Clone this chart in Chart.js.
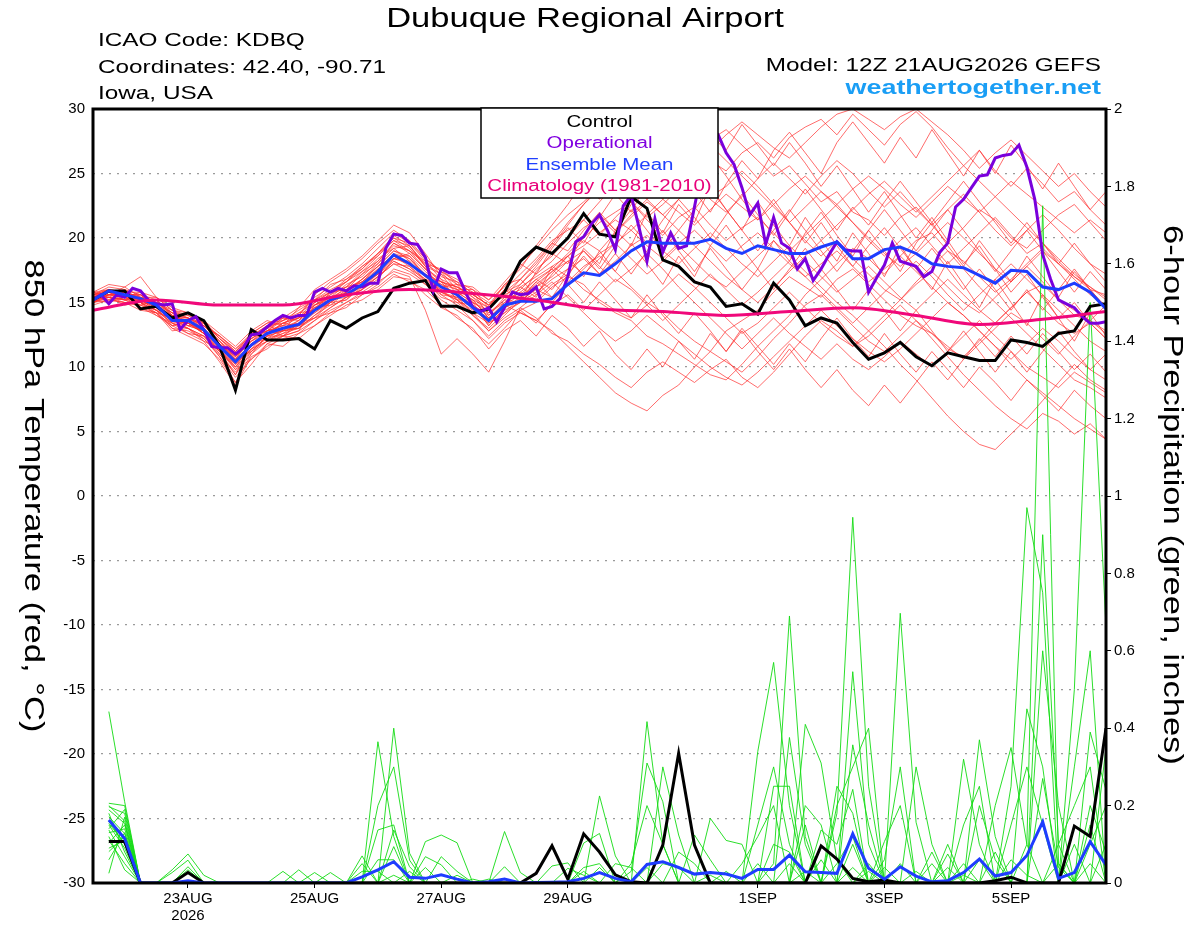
<!DOCTYPE html>
<html lang="en">
<head>
    <meta charset="UTF-8">
    <title>Dubuque Regional Airport - GEFS plume</title>
    <script src="https://cdn.jsdelivr.net/npm/chart.js"></script>
    <style>
        html, body {
            margin: 0;
            padding: 0;
            background: #fff;
        }

        #plume {
            display: block;
        }
    </style>
</head>
<body>
<canvas id="plume" width="1200" height="927"></canvas>

<script>
    // forecast hours after 12Z 21AUG2026
    const hours6 = [0, 6, 12, 18, 24, 30, 36, 42, 48, 54, 60, 66, 72, 78, 84, 90, 96, 102, 108, 114, 120,
        126, 132, 138, 144, 150, 156, 162, 168, 174, 180, 186, 192, 198, 204, 210, 216, 222, 228, 234, 240,
        246, 252, 258, 264, 270, 276, 282, 288, 294, 300, 306, 312, 318, 324, 330, 336, 342, 348, 354, 360,
        366, 372, 378, 384];
    const hours3 = [0, 3, 6, 9, 12, 15, 18, 21, 24, 27, 30, 33, 36, 39, 42, 45,
        48, 51, 54, 57, 60, 63, 66, 69, 72, 75, 78, 81, 84, 87, 90, 93,
        96, 99, 102, 105, 108, 111, 114, 117, 120, 123, 126, 129, 132, 135, 138, 141,
        144, 147, 150, 153, 156, 159, 162, 165, 168, 171, 174, 177, 180, 183, 186, 189,
        192, 195, 198, 201, 204, 207, 210, 213, 216, 219, 222, 225, 228, 231, 234, 237,
        240, 243, 246, 249, 252, 255, 258, 261, 264, 267, 270, 273, 276, 279, 282, 285,
        288, 291, 294, 297, 300, 303, 306, 309, 312, 315, 318, 321, 324, 327, 330, 333,
        336, 339, 342, 345, 348, 351, 354, 357, 360, 363, 366, 369, 372, 375, 378, 381,
        384];
    const climHours = [0, 24, 48, 72, 96, 120, 144, 168, 192, 216, 240, 264, 288, 312, 336, 360, 384];
    const precipHours = hours6.slice(1);

    const tickHours = [36, 84, 132, 180, 252, 300, 348];
    const tickLabels = [['23AUG', '2026'], '25AUG', '27AUG', '29AUG', '1SEP', '3SEP', '5SEP'];

    // 850 hPa temperature (C)
    const controlTemp = [15.2, 15.9, 15.9, 14.5, 14.7, 13.8, 14.2, 13.6, 11.6,
        8.2, 12.9, 12.1, 12.1, 12.2, 11.4, 13.6, 13.0, 13.8,
        14.3, 16.1, 16.5, 16.7, 14.7, 14.7, 14.2, 14.5,
        15.8, 18.2, 19.3, 18.8, 20.0, 21.9, 20.3, 20.1,
        23.2, 22.3, 18.3, 17.8, 16.6, 16.2, 14.7, 14.9,
        14.1, 16.5, 15.2, 13.2, 13.8, 13.4, 11.9, 10.6,
        11.1, 11.9, 10.8, 10.1, 11.1, 10.8, 10.5, 10.5,
        12.1, 11.9, 11.6, 12.6, 12.8, 14.7, 14.9];

    const meanTemp = [15.2, 15.9, 15.6, 15.3, 14.8, 13.6, 13.6, 12.9, 11.6,
        10.4, 11.7, 12.6, 13.0, 13.3, 14.4, 15.2, 15.6, 16.4,
        17.4, 18.7, 18.0, 17.1, 16.2, 15.6, 14.6, 13.6,
        14.8, 15.1, 15.1, 15.3, 16.4, 17.3, 17.1, 18.0,
        19.0, 19.7, 19.6, 19.6, 19.6, 19.9, 19.2, 18.8,
        19.4, 19.1, 18.8, 18.8, 19.3, 19.7, 18.4, 18.4,
        19.1, 19.3, 18.8, 18.0, 17.8, 17.7, 17.1, 16.5,
        17.5, 17.4, 16.2, 16.0, 16.5, 15.8, 14.5];

    const operTemp = [15.2, 15.6, 14.9, 15.6, 15.4, 16.1, 15.9, 15.2, 14.9, 14.8, 14.9, 12.9, 13.6, 13.9, 12.9, 11.6,
        11.5, 11.5, 11.0, 11.5, 12.5, 12.6, 13.1, 13.6, 14.0, 13.8, 14.0, 14.0, 15.8, 16.1, 15.8, 16.1,
        15.9, 16.3, 16.2, 16.5, 16.5, 19.2, 20.3, 20.2, 19.6, 19.5, 18.5, 15.9, 17.6, 17.3, 17.3, 15.9,
        14.6, 14.3, 14.6, 13.5, 14.6, 15.8, 15.6, 15.7, 16.2, 14.5, 14.7, 15.3, 17.0, 19.7, 20.1, 21.1,
        21.8, 20.6, 19.1, 22.5, 23.3, 20.8, 18.2, 21.5, 18.9, 20.4, 19.2, 19.4, 22.4, 25.5, 27.6, 28.0,
        26.6, 25.7, 23.9, 21.8, 22.7, 19.5, 21.6, 19.6, 19.2, 17.6, 18.4, 16.7, 17.6, 18.7, 19.7, 19.1,
        19.0, 19.0, 15.8, 16.9, 17.9, 19.6, 18.2, 18.0, 17.8, 17.0, 17.4, 18.9, 19.6, 22.4, 23.0, 23.9,
        24.8, 24.9, 26.2, 26.4, 26.5, 27.2, 25.5, 23.0, 18.7, 16.8, 15.2, 14.9, 14.6, 13.9, 13.4, 13.4,
        13.5];

    const climTemp = [14.4, 15.2, 14.8, 14.8, 15.6, 16.0, 15.7, 15.2, 14.5, 14.3, 14.0, 14.3, 14.6, 14.0, 13.3, 13.7, 14.3];

    // ensemble members, 850 hPa temperature
    const ens01 = [15.6, 16.0, 15.4, 15.0, 14.2, 13.8, 13.0, 12.4, 11.2,
        10.2, 11.4, 12.0, 12.6, 13.4, 14.6, 15.4, 16.0, 16.8,
        17.8, 19.0, 18.6, 17.4, 16.4, 16.0, 15.2, 14.6,
        15.8, 16.4, 17.8, 19.4, 21.0, 22.6, 23.8, 25.0,
        26.4, 27.8, 28.6, 29.4, 28.8, 27.6, 28.4, 27.2,
        26.0, 24.8, 25.6, 24.2, 22.8, 23.6, 22.0, 21.4,
        20.2, 21.6, 22.4, 21.0, 19.6, 20.8, 22.2, 21.4,
        20.0, 19.2, 20.6, 21.8, 22.6, 21.2, 19.8];
    const ens02 = [15.0, 15.6, 15.8, 15.2, 14.6, 13.2, 13.4, 12.6, 11.0,
        9.6, 11.0, 12.4, 12.8, 13.0, 14.0, 14.8, 15.2, 16.2,
        17.0, 18.2, 17.6, 16.8, 15.8, 15.4, 14.6, 13.8,
        14.8, 14.2, 13.6, 12.8, 11.6, 10.4, 9.2, 8.0,
        7.2, 6.6, 7.8, 8.6, 10.0, 11.2, 12.8, 13.6,
        14.4, 15.8, 17.0, 16.2, 15.4, 16.8, 17.6, 16.4,
        15.2, 14.0, 13.2, 12.6, 11.4, 10.8, 12.0, 13.4,
        14.6, 15.8, 16.4, 15.2, 14.0, 13.6, 14.8];
    const ens03 = [15.4, 15.2, 15.0, 14.8, 15.2, 14.0, 13.2, 12.8, 11.8,
        10.8, 12.2, 13.0, 12.4, 12.8, 14.8, 15.6, 16.6, 17.4,
        18.6, 20.0, 19.2, 17.8, 15.6, 14.8, 13.6, 12.4,
        13.6, 14.4, 15.0, 16.2, 17.0, 16.4, 15.0, 14.2,
        13.6, 12.4, 11.8, 11.0, 10.2, 9.4, 9.0, 10.2,
        11.6, 12.8, 14.0, 15.6, 16.8, 18.0, 19.2, 18.4,
        17.2, 18.6, 19.8, 20.4, 19.0, 17.6, 16.2, 15.0,
        13.8, 12.6, 11.4, 10.2, 9.0, 8.4, 7.6];
    const ens04 = [15.2, 15.8, 15.6, 15.6, 15.0, 14.4, 13.8, 13.2, 12.0,
        11.0, 12.0, 12.8, 13.6, 14.2, 15.0, 15.8, 16.2, 17.2,
        18.0, 19.6, 19.0, 18.0, 17.2, 16.4, 15.8, 15.0,
        15.4, 16.0, 17.2, 18.2, 19.6, 20.8, 21.6, 20.4,
        21.8, 23.0, 24.2, 23.4, 24.8, 26.0, 25.2, 26.6,
        27.4, 26.2, 27.8, 28.6, 29.2, 28.0, 29.6, 28.4,
        27.2, 28.8, 29.8, 28.6, 27.0, 25.6, 26.8, 25.2,
        24.0, 25.4, 24.2, 22.8, 23.6, 22.2, 21.0];
    const ens05 = [15.8, 15.4, 15.2, 14.6, 14.0, 13.4, 12.6, 12.0, 11.4,
        9.8, 10.6, 11.6, 12.2, 12.6, 13.6, 14.6, 15.4, 16.0,
        16.8, 18.4, 18.8, 17.6, 16.8, 15.2, 14.0, 12.8,
        14.0, 15.2, 16.0, 15.4, 16.6, 17.8, 18.6, 17.4,
        16.2, 15.0, 14.2, 13.0, 12.0, 11.2, 10.4, 9.6,
        10.8, 12.2, 13.4, 14.8, 15.6, 14.4, 13.2, 12.0,
        11.2, 12.4, 13.6, 12.2, 10.8, 9.4, 8.2, 7.0,
        6.0, 5.2, 6.4, 5.8, 4.8, 5.6, 4.4];
    const ens06 = [15.0, 15.2, 15.0, 14.4, 14.2, 13.0, 12.4, 11.8, 10.6,
        8.8, 10.2, 11.8, 12.4, 13.2, 13.8, 14.2, 15.0, 15.8,
        16.6, 17.4, 17.0, 14.4, 11.0, 12.2, 11.0, 9.6,
        12.0, 14.6, 13.8, 12.6, 12.0, 11.0, 10.2, 9.2,
        8.4, 9.6, 10.4, 9.6, 8.8, 9.8, 10.6, 9.2,
        8.4, 9.6, 11.0, 12.4, 13.6, 12.8, 11.6, 12.4,
        13.6, 14.8, 13.6, 12.6, 11.6, 10.6, 11.8, 13.0,
        14.2, 13.4, 12.2, 11.0, 12.4, 13.6, 12.6];
    const ens07 = [15.6, 16.2, 16.0, 15.6, 15.2, 14.2, 14.0, 13.2, 12.0,
        10.8, 12.0, 13.0, 13.6, 14.0, 15.4, 16.2, 17.0, 18.0,
        19.2, 20.4, 19.6, 18.2, 16.8, 16.2, 15.6, 14.8,
        16.0, 17.2, 18.4, 19.8, 20.6, 21.4, 20.2, 21.6,
        22.8, 21.4, 20.2, 21.6, 22.4, 21.0, 19.8, 20.8,
        21.6, 20.4, 19.0, 20.2, 21.4, 22.6, 21.2, 19.8,
        18.6, 19.8, 20.8, 19.4, 18.0, 19.2, 20.4, 21.6,
        20.2, 18.8, 19.6, 18.2, 17.0, 16.2, 15.4];
    const ens08 = [15.4, 15.6, 15.8, 15.0, 14.8, 13.8, 13.6, 12.6, 11.8,
        10.4, 11.6, 12.8, 13.2, 13.8, 14.2, 15.0, 16.0, 16.6,
        17.6, 18.8, 18.4, 17.2, 16.2, 15.8, 15.0, 13.2,
        14.6, 15.2, 16.6, 17.6, 18.8, 20.0, 21.2, 22.0,
        22.8, 21.6, 22.6, 23.8, 24.6, 23.2, 24.0, 25.2,
        24.0, 22.6, 21.2, 19.8, 18.6, 19.8, 18.4, 17.2,
        16.0, 15.2, 16.4, 17.4, 16.2, 15.0, 14.2, 15.4,
        16.6, 17.8, 16.6, 15.2, 14.4, 13.6, 12.8];
    const ens09 = [15.8, 16.4, 16.2, 17.0, 15.4, 14.6, 14.2, 13.4, 12.2,
        11.2, 12.6, 13.4, 13.8, 14.6, 16.0, 16.8, 17.6, 18.6,
        19.8, 21.0, 20.4, 18.8, 17.0, 16.6, 15.4, 14.2,
        15.0, 15.8, 15.2, 16.4, 17.2, 16.0, 15.2, 14.4,
        13.8, 14.8, 16.0, 17.2, 16.2, 15.0, 13.8, 12.6,
        13.4, 14.6, 15.8, 14.6, 13.4, 12.4, 11.6, 12.8,
        14.0, 15.2, 16.6, 17.8, 19.0, 18.2, 17.0, 15.8,
        16.8, 18.0, 19.2, 18.0, 16.8, 15.6, 14.8];
    const ens10 = [15.2, 15.4, 15.2, 15.4, 14.8, 13.6, 13.4, 12.6, 11.4,
        10.0, 11.8, 12.6, 13.0, 13.4, 14.4, 15.2, 15.6, 16.4,
        17.2, 18.4, 18.0, 17.0, 16.4, 15.6, 14.8, 14.0,
        15.2, 16.4, 17.6, 18.6, 20.0, 21.4, 22.8, 24.2,
        23.0, 24.4, 25.8, 26.8, 25.6, 26.8, 28.0, 29.0,
        28.0, 27.0, 26.2, 27.4, 28.6, 29.6, 30.0, 29.2,
        28.4, 29.4, 30.0, 29.0, 28.0, 26.8, 25.4, 26.6,
        27.6, 26.4, 25.2, 24.0, 25.0, 23.6, 22.4];
    const ens11 = [15.0, 15.6, 15.4, 15.2, 14.4, 13.4, 13.0, 12.4, 11.2,
        9.8, 11.4, 12.2, 12.6, 13.0, 14.0, 15.0, 15.8, 16.6,
        17.4, 18.6, 17.8, 16.6, 15.4, 15.0, 14.0, 13.0,
        14.2, 15.0, 16.2, 17.0, 18.2, 19.0, 17.8, 16.6,
        17.6, 18.8, 17.6, 16.2, 15.0, 13.8, 12.6, 11.4,
        12.6, 13.8, 12.6, 11.6, 10.6, 11.8, 10.6, 9.8,
        10.8, 12.0, 11.0, 10.0, 11.2, 12.4, 13.6, 12.4,
        11.2, 10.0, 9.2, 8.4, 9.6, 8.8, 8.0];
    const ens12 = [15.4, 16.0, 15.8, 15.2, 14.6, 13.8, 13.8, 13.0, 11.6,
        10.6, 11.2, 12.4, 13.4, 13.8, 14.8, 15.4, 15.8, 16.8,
        18.0, 19.2, 18.2, 17.0, 16.0, 15.6, 14.8, 13.4,
        14.4, 15.0, 16.2, 17.4, 18.6, 19.8, 19.0, 20.4,
        21.6, 22.8, 21.8, 23.0, 24.2, 23.0, 22.0, 23.2,
        24.6, 25.8, 24.6, 23.4, 24.8, 26.0, 25.0, 23.6,
        22.4, 23.6, 22.2, 21.0, 22.2, 23.4, 22.0, 20.6,
        19.4, 20.6, 21.8, 20.6, 19.2, 18.0, 17.2];
    const ens13 = [15.6, 15.8, 15.4, 15.4, 14.8, 13.4, 13.6, 13.0, 11.8,
        10.6, 12.2, 12.8, 13.2, 13.4, 14.6, 15.2, 15.4, 16.0,
        17.0, 18.0, 17.8, 16.8, 16.2, 15.8, 15.0, 14.2,
        15.2, 15.0, 15.8, 16.8, 17.6, 18.4, 17.2, 18.2,
        19.4, 20.2, 19.0, 18.0, 19.2, 20.4, 19.2, 18.0,
        17.0, 18.2, 19.4, 18.2, 17.0, 15.8, 16.8, 17.8,
        16.6, 15.4, 14.4, 15.6, 16.8, 15.6, 14.4, 13.4,
        14.6, 15.8, 14.6, 13.4, 12.6, 13.4, 12.2];
    const ens14 = [15.2, 15.6, 15.6, 15.0, 14.4, 13.6, 13.4, 12.8, 11.4,
        10.2, 11.6, 12.4, 12.8, 13.2, 14.2, 15.2, 15.6, 16.2,
        17.2, 18.6, 18.0, 17.2, 16.6, 16.0, 15.2, 13.8,
        14.8, 15.6, 16.8, 17.6, 16.4, 17.6, 18.8, 19.6,
        18.4, 17.2, 18.2, 19.4, 18.2, 17.0, 16.2, 17.4,
        18.6, 19.8, 18.6, 17.4, 16.2, 15.0, 14.0, 12.8,
        11.6, 10.2, 9.0, 7.6, 6.2, 5.0, 4.0, 3.6,
        4.8, 6.0, 7.4, 8.8, 10.2, 9.0, 8.2];
    const ens15 = [15.8, 16.0, 15.6, 15.2, 15.0, 14.0, 13.8, 13.2, 12.4,
        11.4, 12.4, 13.2, 13.4, 14.0, 15.6, 16.6, 17.4, 18.4,
        19.6, 20.6, 19.8, 18.4, 17.4, 16.6, 16.0, 15.2,
        16.2, 17.8, 19.2, 20.6, 21.8, 22.8, 24.0, 25.2,
        24.2, 23.0, 21.8, 20.6, 19.4, 18.2, 17.0, 16.0,
        15.0, 16.2, 17.4, 18.6, 19.8, 21.0, 22.2, 23.4,
        24.4, 23.2, 22.0, 23.2, 24.4, 25.6, 24.4, 23.2,
        22.0, 20.8, 19.6, 18.4, 17.2, 16.2, 15.2];
    const ens16 = [14.8, 15.2, 15.4, 15.0, 14.4, 13.0, 12.8, 12.2, 10.8,
        8.8, 11.0, 12.0, 12.4, 12.8, 13.6, 14.4, 15.0, 15.6,
        16.4, 17.6, 17.2, 16.4, 15.2, 14.4, 13.6, 12.2,
        13.4, 14.2, 13.6, 14.8, 15.6, 14.4, 15.6, 16.8,
        16.0, 14.8, 13.6, 14.8, 16.0, 17.2, 16.0, 14.8,
        15.8, 17.0, 18.2, 17.0, 15.8, 14.6, 13.4, 14.6,
        15.8, 17.0, 18.2, 17.0, 15.6, 14.4, 15.6, 16.8,
        18.0, 16.8, 15.6, 14.4, 13.2, 12.0, 11.2];
    const ens17 = [15.4, 15.8, 15.8, 15.4, 15.0, 14.2, 13.8, 13.4, 12.2,
        11.2, 12.4, 12.8, 13.0, 13.6, 15.0, 15.8, 16.6, 17.8,
        18.8, 20.2, 19.4, 17.8, 16.6, 16.2, 15.4, 14.6,
        15.8, 16.8, 18.0, 19.6, 21.2, 22.6, 24.0, 25.4,
        26.4, 25.2, 26.6, 27.6, 28.4, 27.2, 26.0, 24.8,
        23.6, 22.4, 21.2, 22.4, 23.6, 22.4, 21.2, 20.0,
        18.8, 17.8, 18.8, 20.0, 21.2, 20.0, 18.8, 17.6,
        16.6, 17.8, 19.0, 18.0, 17.0, 16.0, 15.6];
    const ens18 = [15.0, 15.4, 15.2, 14.8, 14.4, 13.4, 13.0, 12.2, 11.0,
        9.4, 11.2, 12.0, 12.8, 13.0, 13.8, 14.6, 15.4, 16.0,
        17.0, 18.0, 17.4, 16.6, 15.8, 15.2, 14.2, 12.8,
        13.8, 14.6, 15.6, 16.6, 15.4, 14.2, 13.0, 12.0,
        12.8, 14.0, 13.0, 12.0, 11.0, 10.0, 9.2, 8.6,
        9.6, 10.8, 12.0, 13.2, 14.4, 13.2, 12.2, 11.2,
        10.4, 11.4, 12.6, 13.8, 15.0, 14.0, 12.8, 11.6,
        10.6, 11.8, 13.0, 12.0, 10.8, 9.8, 9.0];
    const ens19 = [15.6, 15.8, 15.8, 15.4, 14.8, 14.0, 13.4, 12.8, 11.8,
        10.8, 12.0, 12.6, 13.4, 13.8, 14.8, 15.4, 16.4, 17.0,
        18.2, 19.4, 19.0, 17.6, 16.6, 16.2, 15.6, 14.8,
        15.6, 16.2, 17.0, 17.8, 18.6, 19.4, 20.4, 21.4,
        20.6, 21.8, 23.0, 22.0, 21.0, 22.2, 23.4, 22.4,
        21.4, 22.6, 23.8, 24.8, 23.6, 22.6, 23.8, 24.8,
        23.8, 22.6, 21.6, 22.8, 24.0, 23.0, 22.0, 23.2,
        24.4, 23.4, 22.4, 21.4, 20.4, 21.4, 20.4];
    const ens20 = [15.4, 15.4, 15.0, 14.8, 14.2, 13.2, 13.6, 12.6, 11.2,
        10.0, 11.4, 12.6, 12.8, 13.6, 14.4, 15.0, 15.8, 16.8,
        17.8, 19.0, 18.4, 17.0, 15.8, 15.2, 14.4, 13.6,
        14.6, 15.4, 16.4, 17.4, 18.2, 17.2, 18.4, 19.6,
        20.6, 19.4, 18.4, 19.6, 20.6, 19.4, 18.2, 19.4,
        20.4, 19.2, 18.0, 17.0, 18.0, 19.0, 17.8, 16.6,
        17.6, 18.6, 17.4, 16.2, 15.0, 14.0, 12.8, 11.6,
        10.2, 9.0, 8.0, 7.0, 6.0, 5.2, 4.4];
    const ens21 = [15.0, 15.8, 15.2, 15.6, 14.6, 13.6, 13.2, 12.8, 11.2,
        9.4, 11.8, 12.2, 13.0, 13.0, 14.6, 14.8, 15.8, 16.2,
        17.6, 18.4, 18.2, 16.6, 16.0, 15.0, 14.8, 13.2,
        14.6, 16.2, 15.4, 17.8, 17.0, 19.2, 18.0, 20.6,
        19.4, 22.0, 20.4, 22.6, 21.2, 24.0, 22.2, 20.6,
        22.8, 21.0, 19.4, 21.6, 19.8, 18.2, 20.4, 18.8,
        17.0, 19.4, 17.6, 16.0, 18.2, 16.4, 14.6, 16.8,
        15.0, 13.2, 15.6, 13.8, 12.0, 14.2, 12.4];
    const ens22 = [15.6, 15.4, 16.0, 15.2, 15.0, 14.2, 13.2, 13.4, 12.0,
        10.6, 12.4, 12.8, 13.8, 13.6, 15.0, 15.6, 16.2, 17.4,
        18.2, 19.6, 18.8, 17.6, 16.2, 16.4, 15.0, 14.4,
        16.0, 15.2, 17.4, 18.8, 18.0, 20.2, 21.8, 20.6,
        22.6, 24.4, 23.0, 25.2, 23.6, 22.0, 24.2, 26.0,
        24.6, 26.8, 28.2, 26.6, 25.0, 27.4, 29.0, 27.4,
        25.8, 27.8, 26.2, 28.4, 26.6, 24.8, 26.8, 25.0,
        27.2, 25.6, 23.8, 25.8, 24.0, 22.2, 23.6];
    const ens23 = [15.2, 15.0, 15.4, 14.6, 14.2, 12.8, 13.0, 12.0, 10.4,
        8.6, 10.8, 11.4, 12.4, 12.2, 13.2, 14.2, 14.6, 15.6,
        16.2, 17.2, 16.6, 16.0, 14.8, 13.8, 13.0, 11.4,
        12.8, 13.6, 12.4, 14.0, 13.0, 11.6, 12.8, 11.0,
        9.8, 11.4, 10.0, 12.0, 10.6, 12.6, 11.2, 13.0,
        11.6, 10.2, 11.8, 10.4, 12.2, 13.8, 12.2, 10.8,
        12.6, 11.0, 9.6, 11.2, 9.8, 8.4, 10.0, 8.8,
        7.4, 9.0, 7.8, 6.6, 8.2, 7.0, 6.0];
    const ens24 = [15.4, 16.0, 15.4, 15.8, 14.8, 14.2, 13.4, 13.6, 12.2,
        11.0, 12.4, 13.2, 12.8, 14.2, 14.4, 15.8, 16.0, 17.2,
        18.4, 19.2, 19.4, 17.8, 17.2, 15.6, 15.8, 14.0,
        15.4, 16.8, 15.6, 17.2, 18.6, 17.0, 19.0, 17.4,
        19.6, 18.0, 16.4, 18.6, 17.0, 19.4, 21.0, 19.2,
        17.6, 19.8, 18.2, 20.4, 22.0, 20.2, 18.6, 20.6,
        19.0, 17.4, 19.6, 21.2, 19.4, 17.8, 19.8, 18.2,
        16.6, 18.6, 17.0, 15.4, 17.4, 16.0, 14.6];
    const ens25 = [15.8, 15.6, 16.2, 15.4, 15.4, 14.4, 14.0, 13.6, 12.6,
        11.6, 12.8, 13.6, 13.2, 14.6, 15.2, 16.4, 16.8, 17.8,
        18.6, 19.8, 19.4, 18.0, 17.6, 16.4, 16.2, 15.2,
        16.6, 18.0, 17.2, 19.2, 20.8, 19.6, 21.6, 23.4,
        22.0, 24.2, 25.8, 24.4, 26.6, 28.0, 26.8, 28.8,
        27.2, 25.6, 27.4, 25.8, 24.0, 25.6, 23.8, 22.0,
        23.6, 21.8, 20.0, 21.6, 19.8, 18.0, 19.4, 17.6,
        15.8, 17.2, 15.4, 13.8, 15.0, 13.4, 12.2];
    const ens26 = [15.0, 15.4, 14.8, 15.0, 14.0, 13.2, 12.6, 12.4, 10.8,
        9.2, 10.6, 11.8, 11.6, 12.6, 13.2, 14.0, 14.8, 15.2,
        16.0, 17.0, 16.8, 15.6, 14.6, 14.0, 12.8, 11.8,
        13.0, 14.4, 13.4, 15.0, 16.4, 15.0, 16.6, 15.2,
        13.8, 15.6, 14.0, 12.6, 14.2, 12.8, 11.2, 12.8,
        11.2, 9.8, 11.4, 9.8, 8.4, 9.8, 8.2, 7.0,
        8.6, 7.2, 8.8, 10.4, 9.0, 10.6, 12.2, 10.8,
        12.4, 11.0, 12.6, 11.2, 9.8, 11.0, 9.6];
    const ens27 = [15.4, 15.8, 15.6, 15.2, 15.2, 14.0, 13.8, 13.2, 12.4,
        11.4, 12.6, 13.4, 13.6, 14.4, 15.2, 16.0, 16.6, 17.6,
        18.8, 20.0, 19.6, 18.4, 17.4, 16.8, 15.6, 14.8,
        16.4, 17.6, 19.4, 21.0, 22.6, 24.4, 23.0, 25.4,
        27.0, 25.6, 27.8, 26.2, 24.6, 26.4, 24.8, 23.0,
        21.4, 23.0, 21.2, 19.6, 21.2, 19.4, 17.8, 19.4,
        20.8, 19.2, 17.6, 19.2, 17.6, 16.0, 17.6, 16.0,
        14.4, 16.0, 14.4, 16.0, 17.6, 16.0, 14.6];
    const ens28 = [15.6, 15.6, 15.6, 15.6, 14.6, 14.0, 13.6, 12.8, 11.8,
        10.6, 11.8, 12.6, 13.4, 13.2, 14.8, 15.2, 16.2, 16.6,
        17.8, 18.6, 18.6, 17.0, 16.6, 15.2, 15.2, 13.8,
        15.0, 15.8, 16.8, 16.0, 17.6, 19.0, 17.6, 19.4,
        21.0, 19.6, 21.4, 23.0, 21.6, 20.0, 21.8, 23.4,
        21.8, 20.2, 22.0, 23.8, 22.2, 20.6, 22.4, 21.0,
        22.8, 24.4, 22.8, 21.2, 22.8, 24.4, 22.8, 21.2,
        19.6, 21.2, 19.6, 18.0, 19.6, 18.0, 16.6];
    const ens29 = [15.2, 15.6, 15.2, 15.2, 14.4, 13.6, 13.4, 12.6, 11.2,
        10.0, 11.2, 12.4, 12.4, 13.4, 13.8, 15.0, 15.2, 16.4,
        17.2, 18.2, 17.6, 16.4, 15.6, 15.4, 14.2, 13.4,
        14.2, 15.4, 16.6, 15.4, 17.2, 18.6, 17.2, 18.8,
        17.2, 19.0, 20.6, 19.0, 17.4, 19.2, 17.6, 16.0,
        17.6, 16.0, 17.6, 19.2, 17.6, 16.0, 14.4, 16.0,
        14.4, 12.8, 14.4, 12.8, 11.2, 12.8, 11.2, 9.6,
        11.2, 9.6, 11.2, 12.8, 11.2, 9.8, 11.0];
    const ens30 = [15.6, 16.0, 15.8, 15.8, 15.4, 14.4, 14.2, 13.4, 12.4,
        11.2, 12.2, 13.0, 13.8, 13.8, 15.2, 15.8, 16.8, 17.6,
        18.8, 19.8, 19.0, 18.2, 17.4, 16.0, 16.0, 14.6,
        16.4, 16.8, 18.2, 19.6, 19.0, 20.6, 22.0, 20.6,
        22.2, 20.6, 19.0, 20.6, 22.2, 23.8, 22.2, 20.6,
        19.0, 20.6, 22.2, 20.6, 19.0, 17.4, 19.0, 20.6,
        22.2, 20.6, 19.0, 20.6, 22.2, 20.6, 19.0, 17.4,
        19.0, 20.6, 19.0, 17.4, 15.8, 17.4, 16.0];
    const memberTemps = [ens01, ens02, ens03, ens04, ens05, ens06, ens07, ens08, ens09, ens10,
        ens11, ens12, ens13, ens14, ens15, ens16, ens17, ens18, ens19, ens20,
        ens21, ens22, ens23, ens24, ens25, ens26, ens27, ens28, ens29, ens30];

    // 6-hour precipitation (inches), valid at precipHours
    const controlPcp = [0.107, 0.107, 0, 0, 0, 0.027, 0, 0,
        0, 0, 0, 0, 0, 0, 0, 0,
        0, 0, 0, 0, 0, 0, 0, 0,
        0, 0, 0, 0.025, 0.096, 0.01, 0.127, 0.08,
        0.021, 0.003, 0, 0.098, 0.335, 0.098, 0, 0,
        0, 0, 0, 0, 0, 0.096, 0.062, 0.012,
        0.003, 0.008, 0, 0, 0, 0, 0, 0,
        0.006, 0.015, 0, 0, 0, 0.147, 0.12, 0.40];
    const meanPcp = [0.163, 0.115, 0, 0, 0, 0.006, 0, 0,
        0, 0, 0, 0, 0, 0, 0, 0,
        0.016, 0.034, 0.055, 0.015, 0.012, 0.021, 0.01, 0,
        0.003, 0.01, 0, 0.001, 0.002, 0.003, 0.012, 0.027,
        0.012, 0.003, 0.048, 0.055, 0.04, 0.023, 0.027, 0.023,
        0.012, 0.035, 0.035, 0.072, 0.029, 0.027, 0.025, 0.127,
        0.038, 0.01, 0.042, 0.018, 0.003, 0.006, 0.027, 0.062,
        0.018, 0.027, 0.071, 0.158, 0.012, 0.027, 0.107, 0.047];

    const pcp01 = [0.443, 0.21, 0, 0, 0, 0, 0, 0,
        0, 0, 0, 0, 0, 0, 0, 0,
        0, 0.365, 0.12, 0, 0, 0, 0, 0,
        0, 0, 0, 0, 0, 0, 0.04, 0.05,
        0, 0, 0, 0, 0, 0, 0, 0,
        0, 0, 0, 0, 0, 0, 0.18, 0.945,
        0.25, 0, 0, 0, 0, 0, 0, 0,
        0, 0, 0.1, 1.75, 0.05, 0, 0, 0];
    const pcp02 = [0.206, 0.2, 0, 0, 0, 0, 0, 0,
        0, 0, 0, 0, 0, 0, 0, 0,
        0.07, 0, 0.4, 0.077, 0, 0, 0, 0,
        0, 0, 0, 0, 0, 0, 0, 0,
        0, 0, 0.417, 0.1, 0, 0, 0, 0,
        0, 0, 0.05, 0.69, 0.12, 0, 0, 0,
        0, 0, 0, 0, 0, 0, 0, 0,
        0, 0, 0, 0, 0, 0, 0.2, 0.08];
    const pcp03 = [0.197, 0.18, 0, 0, 0.034, 0.075, 0.02, 0,
        0, 0, 0, 0, 0, 0, 0, 0,
        0, 0.2, 0.3, 0.059, 0, 0, 0, 0,
        0, 0, 0, 0, 0, 0, 0, 0,
        0, 0.03, 0.31, 0.21, 0, 0, 0, 0,
        0, 0, 0, 0, 0, 0, 0, 0,
        0, 0, 0.697, 0.157, 0, 0, 0, 0,
        0, 0, 0, 0, 0, 0.5, 1.5, 0.66];
    const pcp04 = [0.189, 0.154, 0, 0, 0, 0, 0, 0,
        0, 0, 0, 0, 0, 0, 0, 0,
        0, 0, 0, 0, 0.107, 0.124, 0.104, 0,
        0, 0, 0, 0, 0, 0, 0, 0.225,
        0.07, 0, 0, 0, 0, 0, 0, 0,
        0, 0.34, 0.57, 0.2, 0, 0, 0, 0,
        0, 0, 0, 0, 0, 0, 0, 0,
        0, 0.25, 0.97, 0.75, 0, 0, 0, 0];
    const pcp05 = [0.171, 0.128, 0, 0, 0, 0, 0, 0,
        0, 0, 0, 0, 0.034, 0, 0, 0,
        0, 0.137, 0.15, 0, 0, 0, 0, 0,
        0, 0.133, 0.027, 0, 0, 0, 0, 0,
        0, 0, 0, 0.3, 0.124, 0, 0, 0,
        0, 0, 0, 0, 0.41, 0.31, 0.06, 0,
        0, 0, 0, 0, 0, 0, 0.32, 0.1,
        0, 0, 0, 0, 0, 0, 0.39, 0.24];
    const pcp06 = [0.154, 0.103, 0, 0, 0, 0, 0, 0,
        0, 0, 0, 0, 0, 0, 0, 0,
        0.05, 0, 0.137, 0.042, 0, 0, 0, 0,
        0, 0, 0, 0, 0, 0, 0, 0,
        0, 0, 0, 0, 0, 0, 0.167, 0.11,
        0.1, 0, 0, 0, 0, 0, 0, 0.546,
        0.1, 0, 0, 0, 0, 0, 0, 0.37,
        0.12, 0, 0, 0.27, 0.04, 0, 0, 0];
    const pcp07 = [0.137, 0.068, 0, 0, 0.027, 0.059, 0, 0,
        0, 0, 0, 0, 0, 0, 0, 0,
        0, 0, 0, 0, 0, 0.068, 0.03, 0,
        0, 0, 0, 0, 0, 0, 0.103, 0.128,
        0, 0, 0, 0, 0, 0, 0, 0,
        0, 0, 0, 0.376, 0.1, 0, 0, 0.357,
        0.15, 0, 0, 0, 0, 0.075, 0, 0,
        0, 0, 0.45, 0.3, 0, 0, 0, 0];
    const pcp08 = [0.12, 0.034, 0, 0, 0, 0, 0, 0,
        0, 0, 0, 0, 0, 0, 0, 0,
        0, 0, 0.094, 0, 0.068, 0.047, 0, 0,
        0, 0, 0, 0, 0, 0, 0, 0,
        0, 0, 0, 0, 0, 0.124, 0.06, 0,
        0, 0, 0, 0, 0, 0.137, 0.1, 0.242,
        0, 0, 0, 0, 0.05, 0, 0, 0,
        0, 0, 0, 0, 0, 0.3, 0.6, 0];
    const pcp09 = [0.103, 0.15, 0, 0, 0, 0, 0, 0,
        0, 0, 0, 0, 0, 0, 0.027, 0,
        0, 0, 0, 0, 0, 0, 0, 0,
        0, 0, 0, 0, 0, 0.038, 0.02, 0,
        0, 0, 0, 0, 0, 0, 0, 0,
        0, 0, 0.25, 0.25, 0, 0, 0, 0,
        0, 0.107, 0.2, 0, 0, 0, 0, 0,
        0.2, 0.35, 0.1, 0, 0, 0, 0, 0];
    const pcp10 = [0.081, 0.12, 0, 0, 0, 0.042, 0, 0,
        0, 0, 0, 0, 0, 0, 0, 0,
        0, 0, 0, 0, 0, 0, 0, 0,
        0, 0, 0, 0, 0.044, 0.052, 0, 0,
        0, 0, 0, 0, 0, 0, 0, 0,
        0, 0.15, 0.3, 0.1, 0, 0, 0, 0,
        0, 0, 0, 0.3, 0.1, 0, 0, 0,
        0, 0, 0, 0.6, 0.2, 0, 0, 0];
    const pcp11 = [0.025, 0.17, 0, 0, 0, 0, 0, 0,
        0, 0, 0, 0, 0, 0, 0, 0,
        0, 0, 0, 0, 0, 0, 0, 0,
        0, 0.042, 0, 0, 0, 0, 0, 0,
        0, 0.05, 0.2, 0.1, 0, 0, 0, 0,
        0, 0, 0, 0, 0, 0, 0.2, 0.3,
        0.4, 0, 0, 0, 0, 0, 0.15, 0.25,
        0, 0, 0, 0, 0, 0, 0.1, 0.2];
    const pcp12 = [0.16, 0.1, 0, 0, 0, 0.034, 0, 0,
        0, 0, 0, 0, 0, 0, 0, 0,
        0, 0, 0, 0, 0, 0, 0.02, 0,
        0, 0, 0, 0, 0, 0, 0, 0,
        0, 0, 0, 0, 0.08, 0.05, 0, 0,
        0, 0, 0, 0, 0.2, 0.15, 0, 0,
        0, 0, 0, 0, 0, 0.1, 0, 0,
        0, 0.15, 0.3, 0.15, 0, 0, 0, 0];
    const pcp13 = [0.18, 0.08, 0, 0, 0, 0, 0, 0,
        0, 0, 0, 0, 0, 0.027, 0, 0,
        0, 0, 0, 0.03, 0, 0, 0, 0,
        0, 0, 0, 0, 0, 0, 0, 0,
        0, 0, 0, 0, 0, 0, 0, 0,
        0.05, 0.12, 0.2, 0, 0, 0, 0, 0,
        0, 0.06, 0.3, 0, 0, 0, 0, 0,
        0, 0, 0, 0, 0.1, 0.2, 0.3, 0];
    const pcp14 = [0.14, 0.19, 0, 0, 0, 0, 0, 0,
        0, 0, 0, 0.03, 0, 0, 0, 0,
        0, 0, 0, 0, 0, 0, 0, 0,
        0, 0, 0, 0, 0, 0, 0, 0,
        0.05, 0.04, 0, 0, 0, 0, 0, 0,
        0, 0, 0, 0, 0.15, 0, 0.25, 0.18,
        0, 0, 0, 0, 0, 0, 0, 0.2,
        0.06, 0, 0, 0, 0, 0, 0, 0.35];
    const pcp15 = [0.13, 0.14, 0, 0, 0, 0, 0, 0,
        0, 0, 0, 0, 0, 0, 0, 0,
        0, 0.06, 0.06, 0, 0, 0, 0, 0,
        0, 0, 0, 0, 0, 0, 0, 0,
        0, 0, 0, 0, 0, 0, 0, 0.03,
        0, 0, 0, 0, 0, 0.06, 0, 0,
        0.05, 0, 0, 0, 0.08, 0, 0.05, 0,
        0, 0, 0, 0.9, 0.1, 0, 0, 0];
    const pcp16 = [0.11, 0.05, 0, 0, 0, 0, 0, 0,
        0, 0, 0, 0, 0, 0, 0, 0,
        0, 0, 0, 0, 0, 0, 0, 0,
        0.01, 0, 0, 0, 0, 0, 0, 0.04,
        0, 0, 0, 0, 0, 0, 0, 0,
        0, 0, 0.1, 0.08, 0, 0, 0, 0.1,
        0, 0, 0.05, 0, 0, 0, 0, 0,
        0.08, 0, 0, 0, 0, 0, 0.15, 0];
    const pcp17 = [0.09, 0.11, 0, 0, 0, 0, 0, 0,
        0, 0, 0, 0, 0, 0, 0, 0,
        0.03, 0.03, 0, 0, 0, 0, 0, 0,
        0, 0, 0, 0, 0, 0, 0, 0,
        0, 0, 0, 0.05, 0.04, 0, 0, 0,
        0, 0, 0, 0, 0, 0, 0.05, 0.12,
        0, 0, 0, 0, 0, 0.04, 0, 0,
        0, 0.06, 0.02, 0, 0, 0, 0, 0];
    const pcp18 = [0.2, 0.16, 0, 0, 0, 0, 0, 0,
        0, 0, 0, 0, 0, 0, 0, 0,
        0, 0, 0, 0, 0, 0, 0, 0.01,
        0, 0, 0, 0, 0, 0, 0, 0,
        0, 0, 0, 0, 0, 0, 0, 0,
        0, 0.05, 0, 0.05, 0, 0, 0, 0,
        0, 0.04, 0, 0, 0, 0, 0, 0.06,
        0, 0, 0, 0, 0, 0.1, 0, 0];
    const pcp19 = [0.15, 0.09, 0, 0, 0, 0, 0, 0,
        0, 0, 0, 0, 0, 0, 0, 0,
        0, 0, 0, 0, 0.04, 0, 0, 0,
        0, 0, 0, 0, 0, 0, 0, 0,
        0, 0, 0.04, 0, 0, 0, 0.02, 0,
        0, 0, 0, 0, 0, 0, 0, 0,
        0.03, 0, 0, 0.03, 0, 0, 0, 0,
        0, 0, 0, 0, 0.05, 0, 0.05, 0];
    const pcp20 = [0.06, 0.13, 0, 0, 0, 0, 0, 0,
        0, 0, 0, 0, 0, 0, 0, 0,
        0, 0, 0.02, 0, 0, 0, 0, 0,
        0, 0, 0, 0, 0, 0, 0.03, 0,
        0, 0, 0, 0, 0, 0, 0, 0,
        0, 0, 0, 0, 0.03, 0, 0, 0.04,
        0, 0, 0, 0, 0, 0, 0.02, 0,
        0, 0, 0, 0, 0, 0, 0, 0.1];
    const memberPcps = [pcp01, pcp02, pcp03, pcp04, pcp05, pcp06, pcp07, pcp08, pcp09, pcp10,
        pcp11, pcp12, pcp13, pcp14, pcp15, pcp16, pcp17, pcp18, pcp19, pcp20];

    const FONT = '"Liberation Sans", Arial, Helvetica, sans-serif';
    const STRETCH = 1.28;   // header text is wide, like the original plotting program

    const xy = (hrs, vals) => vals.map((v, i) => ({x: hrs[i], y: v}));

    function line(label, hrs, vals, color, width, axis) {
        return {
            label: label,
            data: xy(hrs, vals),
            borderColor: color,
            borderWidth: width,
            pointRadius: 0,
            tension: 0,
            fill: false,
            yAxisID: axis
        };
    }

    // first dataset is drawn on top
    const datasets = [];
    const clim = line('Climatology (1981-2010)', climHours, climTemp, '#f0087a', 3, 'y');
    clim.cubicInterpolationMode = 'monotone';
    datasets.push(clim);
    datasets.push(line('Ensemble Mean', hours6, meanTemp, '#1e3cff', 3, 'y'));
    datasets.push(line('Operational', hours3, operTemp, '#7a00dc', 3, 'y'));
    datasets.push(line('Control', hours6, controlTemp, '#000000', 3, 'y'));
    datasets.push(line('Mean precip', precipHours, meanPcp, '#1e3cff', 3, 'y2'));
    datasets.push(line('Control precip', precipHours, controlPcp, '#000000', 3, 'y2'));
    memberPcps.forEach((m, i) => datasets.push(line('pcp' + (i + 1), precipHours, m, 'rgba(20,220,20,0.9)', 1, 'y2')));
    memberTemps.forEach((m, i) => datasets.push(line('ens' + (i + 1), hours6, m, 'rgba(255,45,45,0.7)', 1, 'y')));

    function wideText(ctx, text, x, y, align, font, color) {
        ctx.save();
        ctx.font = font;
        ctx.fillStyle = color;
        ctx.textBaseline = 'alphabetic';
        ctx.textAlign = 'left';
        const w = ctx.measureText(text).width * STRETCH;
        const x0 = align === 'center' ? x - w / 2 : (align === 'right' ? x - w : x);
        ctx.translate(x0, y);
        ctx.scale(STRETCH, 1);
        ctx.fillText(text, 0, 0);
        ctx.restore();
    }

    function downText(ctx, text, x, y, font) {
        // reads top to bottom, centred on y, baseline at x
        ctx.save();
        ctx.font = font;
        ctx.fillStyle = '#000';
        ctx.textBaseline = 'alphabetic';
        ctx.textAlign = 'center';
        ctx.translate(x, y);
        ctx.rotate(Math.PI / 2);
        ctx.scale(STRETCH, 1);
        ctx.fillText(text, 0, 0);
        ctx.restore();
    }

    const decorations = {
        id: 'decorations',
        afterDraw(chart) {
            const ctx = chart.ctx;
            const a = chart.chartArea;

            // plot frame
            ctx.save();
            ctx.strokeStyle = '#000';
            ctx.lineWidth = 3;
            ctx.strokeRect(a.left, a.top, a.right - a.left, a.bottom - a.top);
            ctx.restore();

            // legend box
            ctx.save();
            ctx.fillStyle = '#fff';
            ctx.fillRect(481, 108, 237, 90);
            ctx.strokeStyle = '#000';
            ctx.lineWidth = 1.5;
            ctx.strokeRect(481, 108, 237, 90);
            ctx.restore();
            const lf = '16px ' + FONT;
            wideText(ctx, 'Control', 599.5, 127, 'center', lf, '#000');
            wideText(ctx, 'Operational', 599.5, 148, 'center', lf, '#8000e0');
            wideText(ctx, 'Ensemble Mean', 599.5, 169.5, 'center', lf, '#2040ff');
            wideText(ctx, 'Climatology (1981-2010)', 599.5, 191, 'center', lf, '#e8007a');

            // header
            wideText(ctx, 'Dubuque Regional Airport', 585, 27, 'center', '27px ' + FONT, '#000');
            const hf = '19px ' + FONT;
            wideText(ctx, 'ICAO Code: KDBQ', 98, 46, 'left', hf, '#000');
            wideText(ctx, 'Coordinates: 42.40, -90.71', 98, 73, 'left', hf, '#000');
            wideText(ctx, 'Iowa, USA', 98, 99, 'left', hf, '#000');
            wideText(ctx, 'Model: 12Z 21AUG2026 GEFS', 1101, 71, 'right', hf, '#000');
            wideText(ctx, 'weathertogether.net', 1101, 94, 'right', 'bold 21px ' + FONT, '#1a9ef5');

            // axis titles
            downText(ctx, '850 hPa Temperature (red, \u00B0C)', 25, 496, '27px ' + FONT);
            downText(ctx, '6-hour Precipitation (green, inches)', 1164, 495, '27px ' + FONT);
        }
    };

    Chart.defaults.font.family = FONT;
    Chart.defaults.color = '#000';

    new Chart(document.getElementById('plume'), {
        type: 'line',
        data: {datasets: datasets},
        options: {
            responsive: false,
            animation: false,
            events: [],
            layout: {padding: {top: 109, left: 0, right: 0, bottom: 0}},
            plugins: {
                legend: {display: false},
                title: {display: false},
                tooltip: {enabled: false}
            },
            scales: {
                x: {
                    type: 'linear',
                    min: 0,
                    max: 384,
                    afterBuildTicks: s => {
                        s.ticks = tickHours.map(v => ({value: v}));
                    },
                    afterFit: s => {
                        s.height = 44;
                    },
                    ticks: {
                        autoSkip: false,
                        maxRotation: 0,
                        minRotation: 0,
                        padding: 3,
                        font: {size: 15, lineHeight: 1.1},
                        callback: v => {
                            const i = tickHours.indexOf(v);
                            return i >= 0 ? tickLabels[i] : '';
                        }
                    },
                    grid: {
                        drawOnChartArea: false,
                        drawTicks: true,
                        tickLength: 5,
                        tickColor: '#000',
                        tickWidth: 1
                    },
                    border: {display: false}
                },
                y: {
                    type: 'linear',
                    position: 'left',
                    min: -30,
                    max: 30,
                    afterFit: s => {
                        s.width = 93;
                    },
                    ticks: {
                        stepSize: 5,
                        padding: 8,
                        font: {size: 15}
                    },
                    grid: {
                        drawTicks: false,
                        color: '#9a9a9a',
                        lineWidth: 1.2
                    },
                    border: {display: false, dash: [2, 6]}
                },
                y2: {
                    type: 'linear',
                    position: 'right',
                    min: 0,
                    max: 2,
                    afterFit: s => {
                        s.width = 94;
                    },
                    ticks: {
                        stepSize: 0.2,
                        padding: 3,
                        font: {size: 15},
                        callback: v => Math.abs(v - Math.round(v)) < 1e-9 ? String(Math.round(v)) : v.toFixed(1)
                    },
                    grid: {
                        drawOnChartArea: false,
                        drawTicks: true,
                        tickLength: 5,
                        tickColor: '#000',
                        tickWidth: 1
                    },
                    border: {display: false}
                }
            }
        },
        plugins: [decorations]
    });
</script>
</body>
</html>
